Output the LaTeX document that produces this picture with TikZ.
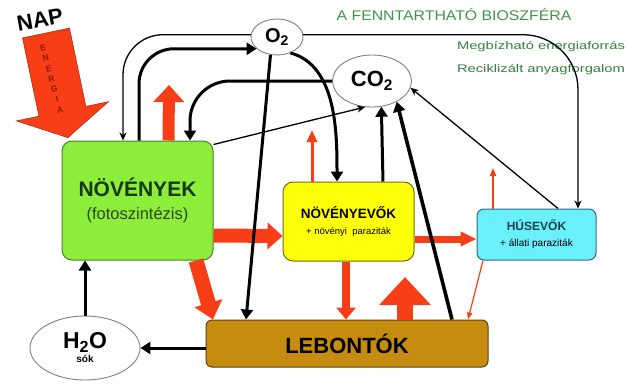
\documentclass[tikz,border=0pt]{standalone}
\usepackage{fontspec}
\setmainfont{Liberation Sans}
\usetikzlibrary{shapes.geometric,arrows.meta}

\definecolor{hot}{RGB}{248,62,22}
\definecolor{hotline}{RGB}{170,35,15}
\definecolor{leaf}{RGB}{140,238,58}
\definecolor{leafline}{RGB}{70,130,40}
\definecolor{leaftext}{RGB}{25,55,25}
\definecolor{grazer}{RGB}{255,255,10}
\definecolor{grazerline}{RGB}{110,110,20}
\definecolor{hunter}{RGB}{105,240,250}
\definecolor{hunterline}{RGB}{40,110,130}
\definecolor{soil}{RGB}{198,140,16}
\definecolor{soilline}{RGB}{95,65,15}
\definecolor{bio}{RGB}{60,150,70}

\begin{document}
\begin{tikzpicture}[x=1pt, y=-1pt,
    box/.style={draw, rounded corners=10pt, line width=1pt, align=center, inner sep=0pt},
    gas/.style={ellipse, draw=gray, fill=white, line width=0.9pt, inner sep=0pt, align=center},
    heavy/.style={line width=3pt, -{Triangle[width=12pt, length=10pt]}},
    light/.style={line width=1.3pt, -{Stealth[width=7pt, length=8pt]}},
    redflow/.style n args={3}{draw=hot, line width=#1, -{Triangle[width=#2, length=#3]}},
    letter/.style={text=hotline!80!black, font=\fontsize{8.5}{8.5}\selectfont\bfseries, rotate=12, inner sep=0pt}]

    \useasboundingbox (0,0) rectangle (629,383);

    % sun energy arrow
    \fill[hot, draw=hotline, line width=0.5pt] (22.5,37.9) -- (69.5,28.1) -- (85.9,106.4) -- (108.4,101.7)
        -- (67.9,137.7) -- (16.4,120.9) -- (38.9,116.2) -- cycle;
    \node[font=\fontsize{22}{22}\selectfont\bfseries, rotate=10, inner sep=0pt] at (40, 20) (nap) {NAP};
    \node[letter] at (43, 48) (e1) {E};
    \node[letter] at (45.8, 58.3) (e2) {N};
    \node[letter] at (48.7, 68.6) (e3) {E};
    \node[letter] at (51.5, 79) (e4) {R};
    \node[letter] at (54.3, 89.3) (e5) {G};
    \node[letter] at (57.2, 99.6) (e6) {I};
    \node[letter] at (60, 110) (e7) {A};

    % titles
    \node[text=bio, font=\fontsize{14}{14}\selectfont, xscale=1.13] at (454, 14) (title) {A FENNTARTHATÓ BIOSZFÉRA};
    \node[text=bio!85!black, font=\fontsize{11}{11}\selectfont, xscale=1.34] at (541, 47) (sub1) {Megbízható energiaforrás};
    \node[text=bio!85!black, font=\fontsize{11}{11}\selectfont, xscale=1.34] at (541, 70) (sub2) {Reciklizált anyagforgalom};

    % boxes
    \node[box, fill=leaf, draw=leafline, text=leaftext, minimum width=151pt, minimum height=119pt] at (137.5, 200.5) (nov)
        {{\fontsize{21}{22}\selectfont\bfseries NÖVÉNYEK}\\[10pt]{\fontsize{16.5}{18}\selectfont\color{leaftext!80!gray}(fotoszintézis)}};
    \node[box, fill=grazer, draw=grazerline, minimum width=131pt, minimum height=79pt] at (348.5, 221.5) (nvev)
        {{\fontsize{13.5}{14}\selectfont\bfseries NÖVÉNYEVŐK}\\[4pt]{\fontsize{9.5}{10}\selectfont + növényi~~paraziták}};
    \node[box, fill=hunter, draw=hunterline, rounded corners=7pt, minimum width=119pt, minimum height=51pt] at (536.5, 234.5) (hus)
        {{\fontsize{12}{13}\selectfont\bfseries\color{hunterline!60!black} HÚSEVŐK}\\[4pt]{\fontsize{10}{10}\selectfont + állati paraziták}};
    \node[box, fill=soil, draw=soilline, rounded corners=6pt, minimum width=282pt, minimum height=47pt,
        font=\fontsize{22}{22}\selectfont\bfseries] at (347, 343.5) (leb) {LEBONTÓK};
    \node[gas, minimum width=110pt, minimum height=64pt] at (85, 348) (h2o)
        {{\fontsize{23}{23}\selectfont\bfseries H\textsubscript{2}O}\\[2pt]{\fontsize{10}{10}\selectfont\bfseries sók}};
    \node[gas, minimum width=52pt, minimum height=36pt, font=\fontsize{20}{20}\selectfont\bfseries] at (277, 37) (o2) {O\textsubscript{2}};
    \node[gas, minimum width=79pt, minimum height=52pt, font=\fontsize{22}{22}\selectfont\bfseries] at (372, 81) (co2) {CO\textsubscript{2}};

    % free ends of the heat arrows
    \coordinate (up1) at (169, 85);
    \coordinate (up2) at (405, 277);
    \coordinate (up3) at (312, 130);
    \coordinate (up4) at (493, 168);

    % energy flow
    \draw[redflow={12pt}{30pt}{17pt}] ([xshift=31pt]nov.north) -- (up1);
    \draw[redflow={14pt}{26pt}{15pt}] ([yshift=-35pt]nov.east) -- ([yshift=-14.5pt]nvev.west);
    \draw[redflow={15pt}{28pt}{17pt}] ([xshift=58.5pt]nov.south) -- ([xshift=-134pt]leb.north);
    \draw[redflow={8pt}{19pt}{12pt}] ([xshift=-2.5pt]nvev.south) -- ([xshift=-1pt]leb.north);
    \draw[redflow={7pt}{14pt}{16pt}] ([yshift=-17.5pt]nvev.east) -- ([yshift=-4.5pt]hus.west);
    \draw[redflow={16pt}{50pt}{28pt}] ([xshift=58pt]leb.north) -- (up2);
    \draw[redflow={3pt}{10pt}{12pt}] ([xshift=-36.5pt]nvev.north) -- (up3);
    \draw[redflow={1.8pt}{6pt}{8pt}] ([xshift=-43.5pt]hus.north) -- (up4);
    \draw[redflow={1.2pt}{5pt}{7pt}] ([xshift=-53.5pt]hus.south) -- ([xshift=121pt]leb.north);

    % gases and water
    \draw[light, rounded corners=40pt] (o2.175) -| ([xshift=-14.5pt]nov.north);
    \draw[heavy, rounded corners=35pt] ([xshift=1.5pt]nov.north) |- (o2.210);
    \draw[light, rounded corners=55pt] (o2.5) -| ([xshift=41.5pt]hus.north);
    \draw[heavy] (o2.-50) to[out=-15, in=90, looseness=0.9] ([xshift=-11.5pt]nvev.north);
    \draw[heavy] (o2.-110) -- ([xshift=-101pt]leb.north);
    \draw[heavy, rounded corners=40pt] (co2.west) -| ([xshift=52.5pt]nov.north);
    \draw[light] ([yshift=-4pt]nov.north east) -- (co2.-105);
    \draw[heavy] ([xshift=34.5pt]nvev.north) -- (co2.-70);
    \draw[heavy, line width=3.6pt] ([xshift=105pt]leb.north) -- (co2.-40);
    \draw[light] ([xshift=21.5pt]hus.north) -- (co2.-10);
    \draw[heavy] (h2o.north) -- (h2o.north |- nov.south);
    \draw[heavy] (leb.west |- h2o.east) -- (h2o.east);
\end{tikzpicture}
\end{document}
